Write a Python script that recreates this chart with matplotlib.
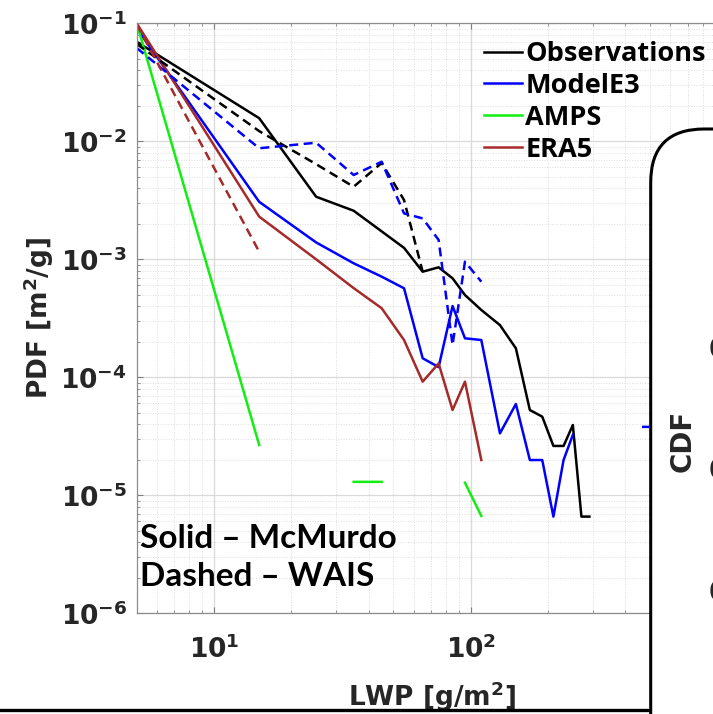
import numpy as np
import matplotlib
matplotlib.use('Agg')
import matplotlib.pyplot as plt
from matplotlib.patches import FancyBboxPatch
from matplotlib.lines import Line2D

nan = np.nan

# PDF of LWP, solid = McMurdo, dashed = WAIS
lwp_obs_mcm = [5, 15, 25, 35, 55, 65, 75, 85, 95, 110, 130, 150, 170, 190, 210, 230, 250, 270, 290]
pdf_obs_mcm = [0.0698, 0.0157, 0.00339, 0.00258, 0.00125, 0.000785, 0.000855, 0.00069, 0.000498,
               0.000372, 0.000277, 0.000176, 5.28e-5, 4.64e-5, 2.62e-5, 2.62e-5, 3.94e-5, 6.6e-6, 6.6e-6]

lwp_obs_wais = [5, 15, 25, 35, 45, 55, 65]
pdf_obs_wais = [0.0668, 0.0122, 0.0064, 0.00412, 0.00655, 0.00318, 0.000785]

lwp_e3_mcm = [5, 15, 25, 35, 45, 55, 65, 75, 85, 95, 110, 130, 150, 170, 190, 210, 230, 250, 270, 470, 490]
pdf_e3_mcm = [0.0907, 0.00307, 0.00139, 0.000925, 0.000713, 0.000568, 0.000145, 0.000122, 0.000402,
              0.000214, 0.000207, 3.35e-5, 5.94e-5, 1.99e-5, 1.99e-5, 6.6e-6, 1.99e-5, 3.25e-5, nan,
              3.8e-5, 3.8e-5]

lwp_e3_wais = [5, 15, 25, 35, 45, 55, 65, 75, 85, 95, 110]
pdf_e3_wais = [0.0618, 0.00873, 0.00973, 0.00518, 0.00671, 0.00245, 0.00222, 0.00146, 0.000188,
               0.000955, 0.000646]

lwp_amps_mcm = [5, 15, 25, 35, 45, 55, 65, 75, 85, 95, 110]
pdf_amps_mcm = [0.1, 2.67e-5, nan, 1.3e-5, 1.3e-5, nan, nan, nan, nan, 1.28e-5, 6.68e-6]

lwp_era_mcm = [5, 15, 25, 35, 45, 55, 65, 75, 85, 95, 110]
pdf_era_mcm = [0.1, 0.0023, 0.001, 0.00057, 0.000385, 0.000207, 9.18e-5, 1.31e-4, 5.28e-5, 9.18e-5, 1.99e-5]

lwp_era_wais = [5, 15]
pdf_era_wais = [0.098, 0.00116]

labels = ['Observations', 'ModelE3', 'AMPS', 'ERA5']
colors = ['black', '#0000ff', '#11ee11', '#a52a2a']

yticks = [1e-6, 1e-5, 1e-4, 1e-3, 1e-2, 1e-1]
ytick_labels = [r'$\mathbf{10^{-6}}$', r'$\mathbf{10^{-5}}$', r'$\mathbf{10^{-4}}$',
                r'$\mathbf{10^{-3}}$', r'$\mathbf{10^{-2}}$', r'$\mathbf{10^{-1}}$']
xticks = [10, 100]
xtick_labels = [r'$\mathbf{10^{1}}$', r'$\mathbf{10^{2}}$']

fig = plt.figure(figsize=(7.13, 7.14), dpi=100)
ax = fig.add_axes([136.7 / 713, 1 - 613.3 / 714, 590.7 / 713, 590.0 / 714])
ax.set_xscale('log')
ax.set_yscale('log')

lw = 1.8
dash = (3.6, 2.2)
ax.plot(lwp_obs_mcm, pdf_obs_mcm, color=colors[0], lw=lw)
ax.plot(lwp_e3_mcm, pdf_e3_mcm, color=colors[1], lw=lw)
ax.plot(lwp_amps_mcm, pdf_amps_mcm, color=colors[2], lw=lw)
ax.plot(lwp_era_mcm, pdf_era_mcm, color=colors[3], lw=lw)
ax.plot(lwp_obs_wais, pdf_obs_wais, color=colors[0], lw=lw, ls='--', dashes=dash)
ax.plot(lwp_e3_wais, pdf_e3_wais, color=colors[1], lw=lw, ls='--', dashes=dash)
ax.plot(lwp_era_wais, pdf_era_wais, color=colors[3], lw=lw, ls='--', dashes=dash)

ax.set_xlim(5, 1000)
ax.set_ylim(1e-6, 1e-1)
ax.set_xticks(xticks)
ax.set_xticklabels(xtick_labels)
ax.set_yticks(yticks)
ax.set_yticklabels(ytick_labels)

ax.grid(True, which='major', color='#d9d9d9', lw=0.9)
ax.grid(True, which='minor', color='#dddddd', lw=0.7, ls=':')
ax.set_axisbelow(True)
for s in ax.spines.values():
    s.set_color('#8c8c8c')
    s.set_linewidth(0.9)
ax.tick_params(which='both', direction='in', top=True, right=True, color='#7f7f7f')
ax.tick_params(which='major', length=4, width=0.8)
ax.tick_params(which='minor', length=2, width=0.6)
ax.tick_params(axis='y', which='major', labelsize=19, labelcolor='#262626', pad=7)
ax.tick_params(axis='x', which='major', labelsize=19, labelcolor='#262626', pad=16)

ax.set_xlabel(r'LWP [g/m$^{\mathbf{2}}$]', fontsize=19, fontweight='bold', color='#262626', labelpad=11)
ax.set_ylabel(r'PDF [m$^{\mathbf{2}}$/g]', fontsize=19, fontweight='bold', color='#262626', labelpad=3)

handles = [Line2D([], [], color=c, lw=lw) for c in colors]
ax.legend(handles, labels, loc='upper left', bbox_to_anchor=(484 / 713, 1 - 41 / 714),
          bbox_transform=fig.transFigure, frameon=False, borderpad=0, borderaxespad=0,
          handlelength=1.4, handletextpad=0.12, labelspacing=0.22,
          prop={'family': 'Open Sans', 'weight': 'bold', 'size': 19.5})

ax.text(140 / 713, 1 - 538 / 714, 'Solid \u2013 McMurdo', transform=fig.transFigure,
        fontsize=24, fontweight='bold', family='Lato', va='center', ha='left')
ax.text(140 / 713, 1 - 577 / 714, 'Dashed \u2013 WAIS', transform=fig.transFigure,
        fontsize=24, fontweight='bold', family='Lato', va='center', ha='left')

# outer frame of this panel and the neighbouring CDF panel
frame = FancyBboxPatch((-0.06, 1 - 710.5 / 714), 2.0, 1.2,
                       boxstyle='round,pad=0,rounding_size=0.06', transform=fig.transFigure,
                       facecolor='none', edgecolor='black', lw=2.4, zorder=9)
fig.add_artist(frame)
cdf_box = FancyBboxPatch((650.7 / 713, -0.2), 0.5, (714 - 129) / 714 + 0.2,
                         boxstyle='round,pad=0,rounding_size=0.075', transform=fig.transFigure,
                         facecolor='white', edgecolor='black', lw=2.2, zorder=10)
fig.add_artist(cdf_box)
fig.text(683 / 713, 1 - 441 / 714, 'CDF', rotation=90, fontsize=20, fontweight='bold',
         color='#262626', ha='center', va='center', zorder=11)
for yp in [350, 471, 593]:
    fig.text(709 / 713, 1 - yp / 714, '0', fontsize=20, fontweight='bold',
             color='#262626', ha='left', va='center', zorder=11)

fig.savefig('out.png', dpi=100)
